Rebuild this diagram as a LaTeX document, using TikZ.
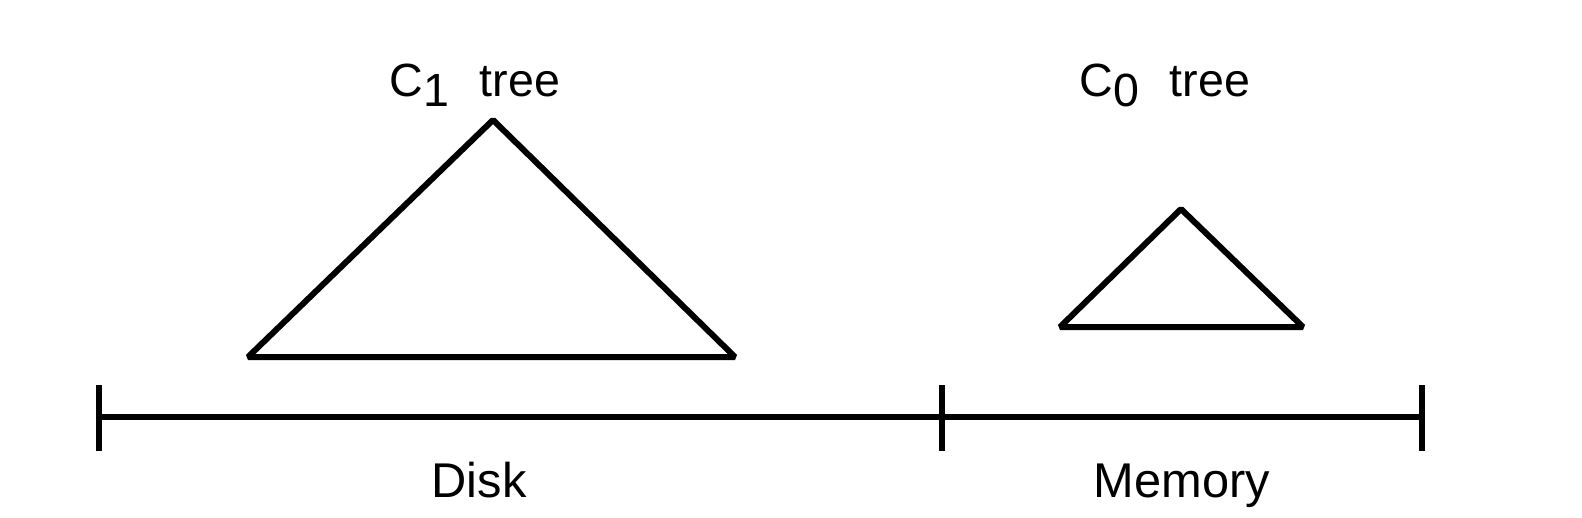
\documentclass[tikz,border=0pt]{standalone}
\usepackage{fontspec}
\setmainfont{Liberation Sans}
\usepackage{tikz}
\usetikzlibrary{positioning}
\definecolor{treeblack}{RGB}{0,0,0}
\tikzset{
  treeline/.style={draw=treeblack,line width=3pt,line join=bevel},
  axisline/.style={draw=treeblack,line width=3pt},
  treelabel/.style={anchor=base,inner sep=0pt,font=\fontsize{23.3}{26}\selectfont},
  partlabel/.style={anchor=base,inner sep=0pt,font=\fontsize{24.4}{28}\selectfont}
}
\newcommand{\treename}[1]{C\raisebox{-5pt}{#1}\hspace{0.65em}tree}
\begin{document}
\begin{tikzpicture}[x=0.5pt,y=-0.5pt]
\useasboundingbox (0,0) rectangle (1582,518);
% Dwa drzewa: duże na dysku, małe w pamięci.
\coordinate (c1top) at (493,120);
\coordinate (c1left) at (248,357);
\coordinate (c1right) at (735,357);
\draw[treeline] (c1left) -- (c1top) -- (c1right) -- cycle;
\coordinate (c0top) at (1181,209);
\coordinate (c0left) at (1060,327);
\coordinate (c0right) at (1303,327);
\draw[treeline] (c0left) -- (c0top) -- (c0right) -- cycle;
\node[treelabel] (c1label) at (475,97) {\treename{1}};
\node[treelabel] (c0label) at (1165,97) {\treename{0}};
% Oś podzielona na dysk i pamięć.
\coordinate (axisL) at (99,417);
\coordinate (axisM) at (942,417);
\coordinate (axisR) at (1422,417);
\draw[axisline] (axisL) -- (axisM) -- (axisR);
\foreach \t in {axisL,axisM,axisR}
  \draw[axisline] ([yshift=16pt]\t) -- ([yshift=-17pt]\t);
\node[partlabel] (disk) at (479,497) {Disk};
\node[partlabel] (memory) at (1182,497) {Memory};
\end{tikzpicture}
\end{document}
